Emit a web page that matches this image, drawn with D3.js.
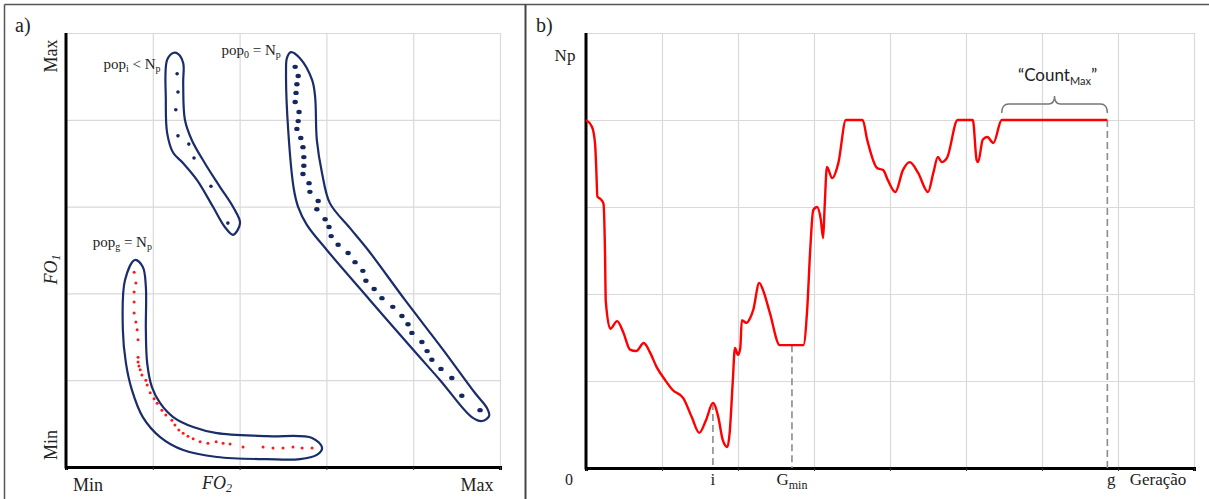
<!DOCTYPE html>
<html lang="pt">
<head>
  <meta charset="utf-8">
  <title>Populacao - FO1 x FO2 e Np x Geracao</title>
  <script src="https://d3js.org/d3.v7.min.js"></script>
  <style>
    body { margin: 0; background: #fff; }
    text { font-family: "Liberation Serif", "Times New Roman", serif; fill: #222; }
    .grid line { stroke: #d9d9d9; stroke-width: 1.2; }
    .grid path { display: none; }
  </style>
</head>
<body>
<script>
// ---- painel a) : pontos (FO2, FO1), escala 0..100 (Min..Max)
var popI = [[25.6,90.6],[25.8,86.4],[25.3,82.3],[25.8,76.3],[28.3,74.4],[29.5,71.2],[33.4,64.7],[37.3,56.2]];
var popIOutline = [[24.7,95.4],[25.8,95.2],[27.0,93.1],[27.0,88.5],[27.4,80.0],[29.0,75.3],[32.0,70.0],[35.5,64.5],
  [38.5,59.9],[40.1,56.2],[38.5,53.5],[36.6,55.3],[33.9,59.9],[30.2,66.1],[27.0,70.0],[24.7,72.4],[23.3,77.0],[23.0,84.6],[23.3,93.8]];

var pop0 = [[52.8,92.2],[53.5,90.1],[53.2,88.2],[53.0,86.2],[52.8,84.1],[53.7,81.8],[53.5,79.7],[53.2,77.9],[54.1,75.8],
  [54.6,73.7],[54.8,71.4],[54.8,69.4],[54.6,67.5],[56.0,65.4],[56.2,63.4],[58.1,61.3],[57.8,59.4],[59.7,57.1],[60.6,55.3],
  [61.1,53.2],[62.7,51.2],[65.0,49.3],[66.6,47.2],[68.4,45.2],[69.1,42.9],[71.0,41.0],[72.8,38.9],[75.3,36.9],[77.4,34.8],
  [78.8,32.9],[79.7,30.9],[82.0,28.8],[83.2,26.7],[84.3,24.7],[86.4,22.6],[88.9,20.5],[91.2,16.4],[95.4,13.1]];
var pop0Outline = [[51.8,95.6],[53.9,94.2],[56.7,89.2],[57.4,85.3],[57.8,75.3],[59.0,67.7],[60.8,60.8],[65.4,55.1],
  [69.6,50.0],[78.1,38.5],[86.9,27.0],[94.2,17.1],[97.0,13.6],[97.5,11.8],[95.9,10.6],[93.5,11.5],[86.2,20.0],[80.0,27.0],
  [70.0,38.5],[60.1,50.0],[55.5,55.8],[53.5,59.9],[52.5,64.0],[51.2,77.6],[50.7,90.8],[50.9,94.2]];

var popG = [[15.7,44.9],[16.1,42.4],[15.7,40.3],[15.7,38.0],[15.7,35.5],[16.1,33.4],[16.4,31.6],[16.6,29.3],[16.6,25.3],
  [16.6,24.2],[16.8,23.3],[17.1,22.4],[17.5,21.2],[18.4,20.0],[18.7,18.9],[19.4,17.1],[20.3,15.7],[21.0,14.7],[22.1,13.1],
  [23.0,12.0],[24.4,10.8],[25.1,9.7],[26.0,8.5],[27.0,7.8],[28.1,7.1],[29.3,6.5],[30.9,5.8],[32.7,5.5],[34.6,5.8],
  [36.2,5.5],[37.8,5.3],[40.8,4.6],[45.4,4.6],[47.7,4.4],[50.0,4.4],[52.3,4.6],[54.4,4.4],[56.7,4.4]];
var popGOutline = [[15.9,47.7],[17.7,46.1],[18.4,41.5],[18.4,31.6],[18.7,24.0],[19.8,18.4],[21.7,14.7],[24.7,11.5],
  [29.3,9.2],[34.8,7.8],[46.3,7.1],[56.7,6.7],[59.0,4.4],[57.8,2.8],[53.9,1.8],[46.3,1.8],[34.8,2.3],[27.0,3.9],
  [21.7,6.9],[17.7,11.5],[15.2,17.7],[13.8,24.0],[13.1,31.6],[13.6,43.1]];

var gridA = [0, 20, 40, 60, 80, 100];

// ---- painel b) : tamanho da populacao x geracao (Np = 100)
var geracao = [0,0.8,1.2,1.35,1.5,1.9,2.3,2.5,2.6,3.2,4.1,4.9,5.8,6.6,7.6,8.4,9.3,10.4,11.4,12.8,13.9,14.9,15.8,16.7,
  17.4,18.0,18.6,18.9,19.3,19.6,20.0,20.3,20.5,21.1,21.6,22.0,22.8,23.3,24.2,25.5,27.1,28.6,29.1,29.5,29.9,30.4,30.9,
  31.2,31.4,31.7,32.4,33.2,34.2,36.4,37.0,38.3,39.1,39.7,40.7,41.7,42.6,43.7,45.0,45.7,46.3,46.8,47.5,48.9,50.9,51.4,
  51.6,52.2,52.8,53.6,54.7,68.6];
var tamanho = [100,98,93,86,78,77.3,76,62,48,40,42.2,39,34,33.6,35.9,33.3,29,25.3,22.4,20.1,14.7,10.1,13.8,18.7,
  14.7,8,6,10,24.4,34.5,32.5,34.5,42.5,41.7,43.1,45.4,53.2,51.1,44.5,35.3,35.3,35.3,45.4,62.6,74.1,75,71.3,
  66.1,75,86.5,83.3,87.6,100,100,94.3,86.2,85.6,82.8,79.3,85.6,87.9,84.8,79.3,84.8,89.4,87.9,89.1,100,100,88.5,
  87.9,94.3,95.1,93.4,100,100];
var Np = 100;
var gI = 16.7, gMin = 27.1, gFim = 68.6, gCount = 54.7;
var gridBx = [0,10,20,30,40,50,60,70,80];
var gridBy = [0,25,50,75,100,125];

var W = 1209, H = 499;
var svg = d3.select('body').append('svg').attr('width', W).attr('height', H);

// moldura
svg.append('line').attr('x1', 4.5).attr('x2', W).attr('y1', 4.5).attr('y2', 4.5).style('stroke', '#555').style('stroke-width', 1.5);
svg.append('line').attr('x1', 4.5).attr('x2', 4.5).attr('y1', 4.5).attr('y2', H).style('stroke', '#555').style('stroke-width', 1.5);
svg.append('line').attr('x1', 525.5).attr('x2', 525.5).attr('y1', 4.5).attr('y2', H).style('stroke', '#444').style('stroke-width', 2);

// ================= painel a
var xa = d3.scaleLinear().domain([0, 100]).range([66, 500]);
var ya = d3.scaleLinear().domain([0, 100]).range([467, 33]);

svg.append('g').attr('class', 'grid')
  .attr('transform', 'translate(0,' + ya(0) + ')')
  .call(d3.axisBottom(xa).tickValues(gridA).tickSize(-(ya(0) - ya(100))).tickFormat(''));
svg.append('g').attr('class', 'grid')
  .attr('transform', 'translate(' + xa(0) + ',0)')
  .call(d3.axisLeft(ya).tickValues(gridA).tickSize(-(xa(100) - xa(0))).tickFormat(''));

// eixos
svg.append('g').attr('transform', 'translate(0,' + ya(0) + ')')
  .call(d3.axisBottom(xa).tickValues(gridA).tickSize(3).tickFormat(''))
  .call(function(g){ g.select('.domain').style('stroke', '#000').style('stroke-width', 3); g.selectAll('.tick line').style('stroke', '#333'); });
svg.append('line').attr('x1', xa(0)).attr('x2', xa(0)).attr('y1', ya(100)).attr('y2', ya(0) + 1.5)
  .style('stroke', '#000').style('stroke-width', 3);

var outline = d3.line().x(function(d){ return xa(d[0]); }).y(function(d){ return ya(d[1]); })
  .curve(d3.curveCatmullRomClosed.alpha(0.5));

[popIOutline, pop0Outline, popGOutline].forEach(function(o){
  svg.append('path').datum(o).attr('d', outline)
    .style('fill', 'none').style('stroke', '#1a2d6b').style('stroke-width', 2.2);
});

svg.append('g').selectAll('circle').data(popI).enter().append('circle')
  .attr('cx', function(d){ return xa(d[0]); }).attr('cy', function(d){ return ya(d[1]); })
  .attr('r', 1.8).style('fill', '#14275e');
svg.append('g').selectAll('ellipse').data(pop0).enter().append('ellipse')
  .attr('cx', function(d){ return xa(d[0]); }).attr('cy', function(d){ return ya(d[1]); })
  .attr('rx', 2.7).attr('ry', 2.2).style('fill', '#14275e');
svg.append('g').selectAll('circle').data(popG).enter().append('circle')
  .attr('cx', function(d){ return xa(d[0]); }).attr('cy', function(d){ return ya(d[1]); })
  .attr('r', 1.5).style('fill', '#ff1a1a');

function popLabel(x, y, sub, rel, anchor) {
  var t = svg.append('text').attr('x', x).attr('y', y).style('font-size', '15px').attr('text-anchor', anchor);
  t.append('tspan').text('pop');
  t.append('tspan').attr('dy', 3).style('font-size', '10px').text(sub);
  t.append('tspan').attr('dy', -3).text(' ' + rel + ' N');
  t.append('tspan').attr('dy', 3).style('font-size', '10px').text('p');
}
popLabel(xa(21.8), ya(91.6), 'i', '<', 'end');
popLabel(xa(49.5), ya(95.0), '0', '=', 'end');
popLabel(xa(19.8), ya(50.6), 'g', '=', 'end');

svg.append('text').attr('x', 15).attr('y', 32).style('font-size', '20px').text('a)');
svg.append('text').attr('x', xa(0) + 22).attr('y', 491).attr('text-anchor', 'middle').style('font-size', '18px').text('Min');
svg.append('text').attr('x', xa(100) - 23).attr('y', 491).attr('text-anchor', 'middle').style('font-size', '18px').text('Max');
var fo2 = svg.append('text').attr('x', xa(34.8)).attr('y', 489).attr('text-anchor', 'middle').style('font-size', '18px').style('font-style', 'italic');
fo2.append('tspan').text('FO');
fo2.append('tspan').attr('dy', 3).style('font-size', '12px').text('2');

function rotText(x, y, txt) {
  return svg.append('text').attr('transform', 'translate(' + x + ',' + y + ') rotate(-90)')
    .attr('text-anchor', 'middle').style('font-size', '18px').text(txt);
}
rotText(57, ya(100) + 23, 'Max');
rotText(57, ya(0) - 22, 'Min');
var fo1 = svg.append('text').attr('transform', 'translate(57,' + ya(45.5) + ') rotate(-90)')
  .attr('text-anchor', 'middle').style('font-size', '18px').style('font-style', 'italic');
fo1.append('tspan').text('FO');
fo1.append('tspan').attr('dy', 3).style('font-size', '12px').text('1');

// ================= painel b
var xb = d3.scaleLinear().domain([0, 80]).range([586, 1194]);
var yb = d3.scaleLinear().domain([0, 125]).range([468, 33]);

svg.append('g').attr('class', 'grid')
  .attr('transform', 'translate(0,' + yb(0) + ')')
  .call(d3.axisBottom(xb).tickValues(gridBx).tickSize(-(yb(0) - yb(125))).tickFormat(''));
svg.append('g').attr('class', 'grid')
  .attr('transform', 'translate(' + xb(0) + ',0)')
  .call(d3.axisLeft(yb).tickValues(gridBy).tickSize(-(xb(80) - xb(0))).tickFormat(''));

svg.append('g').attr('transform', 'translate(0,' + yb(0) + ')')
  .call(d3.axisBottom(xb).tickValues(gridBx).tickSize(3).tickFormat(''))
  .call(function(g){ g.select('.domain').style('stroke', '#000').style('stroke-width', 3); g.selectAll('.tick line').style('stroke', '#333'); });
svg.append('line').attr('x1', xb(0)).attr('x2', xb(0)).attr('y1', yb(125)).attr('y2', yb(0) + 1.5)
  .style('stroke', '#000').style('stroke-width', 3);

var serie = geracao.map(function(g, k){ return {g: g, n: tamanho[k]}; });
function valorEm(g) {
  for (var k = 0; k < serie.length; k++) if (serie[k].g >= g) return serie[k].n;
  return Np;
}

// linhas tracejadas
[gI, gMin, gFim].forEach(function(g){
  svg.append('line').attr('x1', xb(g)).attr('x2', xb(g)).attr('y1', yb(valorEm(g))).attr('y2', yb(0))
    .style('stroke', '#8c8c8c').style('stroke-width', 1.6).style('stroke-dasharray', '7,4');
});

var linha = d3.line().x(function(d){ return xb(d.g); }).y(function(d){ return yb(d.n); }).curve(d3.curveMonotoneX);
svg.append('path').datum(serie).attr('d', linha)
  .style('fill', 'none').style('stroke', '#ff0000').style('stroke-width', 2.4);

// chave "CountMax"
var bx0 = xb(gCount), bx1 = xb(gFim), by = yb(Np) - 16, bm = (bx0 + bx1) / 2;
var chave = 'M' + bx0 + ',' + (by + 9) + ' Q' + bx0 + ',' + by + ' ' + (bx0 + 7) + ',' + by +
  ' L' + (bm - 6) + ',' + by + ' Q' + bm + ',' + by + ' ' + bm + ',' + (by - 8) +
  ' Q' + bm + ',' + by + ' ' + (bm + 6) + ',' + by +
  ' L' + (bx1 - 7) + ',' + by + ' Q' + bx1 + ',' + by + ' ' + bx1 + ',' + (by + 9);
svg.append('path').attr('d', chave).style('fill', 'none').style('stroke', '#777').style('stroke-width', 1.4);
var cm = svg.append('text').attr('x', bm + 3).attr('y', by - 23).attr('text-anchor', 'middle')
  .style('font-family', 'Lato, "Open Sans", sans-serif').style('font-size', '17px');
cm.append('tspan').text('\u201C\u201CCount'.slice(1));
cm.append('tspan').attr('dy', 4).style('font-size', '11px').text('Max');
cm.append('tspan').attr('dy', -4).text('\u201D');

svg.append('text').attr('x', 536).attr('y', 32).style('font-size', '20px').text('b)');
svg.append('text').attr('x', 565).attr('y', 61).attr('text-anchor', 'middle').style('font-size', '17px').text('Np');
svg.append('text').attr('x', 569).attr('y', 485).attr('text-anchor', 'middle').style('font-size', '16px').text('0');
svg.append('text').attr('x', xb(gI)).attr('y', 485).attr('text-anchor', 'middle').style('font-size', '17px').text('i');
var gm = svg.append('text').attr('x', xb(gMin)).attr('y', 485).attr('text-anchor', 'middle').style('font-size', '17px');
gm.append('tspan').text('G');
gm.append('tspan').attr('dy', 4).style('font-size', '12px').text('min');
svg.append('text').attr('x', xb(gFim) + 4).attr('y', 485).attr('text-anchor', 'middle').style('font-size', '17px').text('g');
svg.append('text').attr('x', 1158).attr('y', 485).attr('text-anchor', 'middle').style('font-size', '17px').text('Geração');
</script>
</body>
</html>
